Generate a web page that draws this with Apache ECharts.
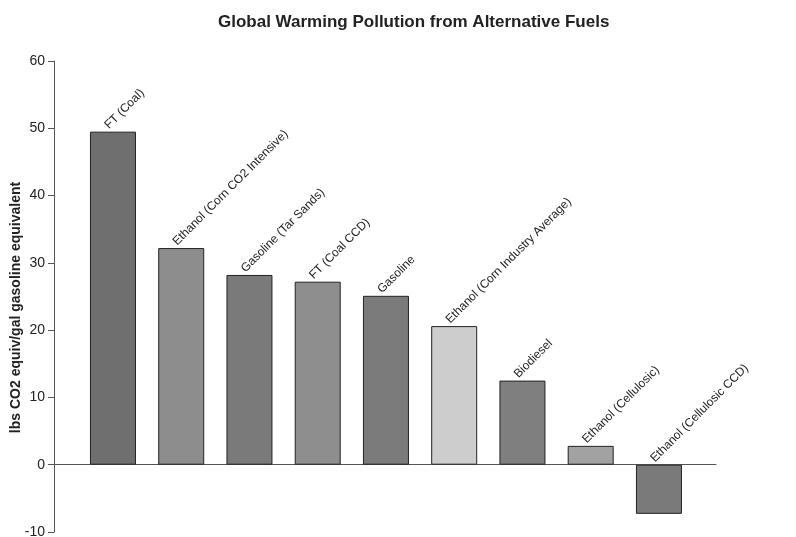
<!DOCTYPE html>
<html>
<head>
<meta charset="utf-8">
<script src="https://cdn.jsdelivr.net/npm/echarts@6/dist/echarts.min.js"></script>
<style>html,body{margin:0;padding:0;background:#fff}#c{width:796px;height:537px}</style>
</head>
<body>
<div id="c"></div>
<script>
const categories = ["FT (Coal)", "Ethanol (Corn CO2 Intensive)", "Gasoline (Tar Sands)", "FT (Coal CCD)", "Gasoline", "Ethanol (Corn Industry Average)", "Biodiesel", "Ethanol (Cellulosic)", "Ethanol (Cellulosic CCD)"];
const values = [49.5, 32.2, 28.2, 27.2, 25.1, 20.6, 12.5, 2.8, -7.3];
const barColors = ["#6f6f6f", "#8d8d8d", "#7a7a7a", "#8e8e8e", "#7b7b7b", "#cdcdcd", "#7f7f7f", "#a2a2a2", "#7a7a7a"];
const yTicks = [-10, 0, 10, 20, 30, 40, 50, 60];

const chart = echarts.init(document.getElementById('c'));
const font = "'Liberation Sans', Arial, sans-serif";
chart.setOption({
  backgroundColor: '#fff',
  animation: false,
  title: {
    text: 'Global Warming Pollution from Alternative Fuels',
    left: 213, top: 9,
    textStyle: { fontFamily: font, fontSize: 17, fontWeight: 'bold', color: '#222' }
  },
  grid: { left: 54, right: 80, top: 61, bottom: 5, containLabel: false, outerBoundsMode: 'none' },
  xAxis: {
    type: 'value', min: -0.864, max: 8.836,
    axisLine: { show: true, onZero: true, lineStyle: { color: '#555', width: 1 } },
    axisTick: { show: false }, axisLabel: { show: false }, splitLine: { show: false }
  },
  yAxis: {
    type: 'value', min: yTicks[0], max: yTicks[yTicks.length - 1], interval: 10,
    name: 'lbs CO2 equiv/gal gasoline equivalent', nameLocation: 'middle', nameRotate: 90, nameGap: 31,
    nameMoveOverlap: false,
    nameTextStyle: { fontFamily: font, fontSize: 14, fontWeight: 'bold', color: '#222', padding: [0, 22, 0, 0] },
    axisLine: { show: true, onZero: false, lineStyle: { color: '#555', width: 1 } },
    axisTick: { show: true, inside: false, length: 6, lineStyle: { color: '#555' } },
    axisLabel: { fontFamily: font, fontSize: 14, color: '#222', margin: 9 },
    splitLine: { show: false }
  },
  series: [{
    type: 'bar',
    barWidth: 46,
    data: values.map((v, i) => ({
      value: [i, v], name: categories[i],
      itemStyle: { color: barColors[i] }
    })),
    itemStyle: { borderColor: '#222', borderWidth: 1 },
    label: {
      show: true, position: 'top', formatter: '{b}', rotate: 45,
      align: 'left', verticalAlign: 'middle', distance: 11, offset: [-9, 0],
      fontFamily: font, fontSize: 12, color: '#222'
    }
  }]
});
</script>
</body>
</html>
